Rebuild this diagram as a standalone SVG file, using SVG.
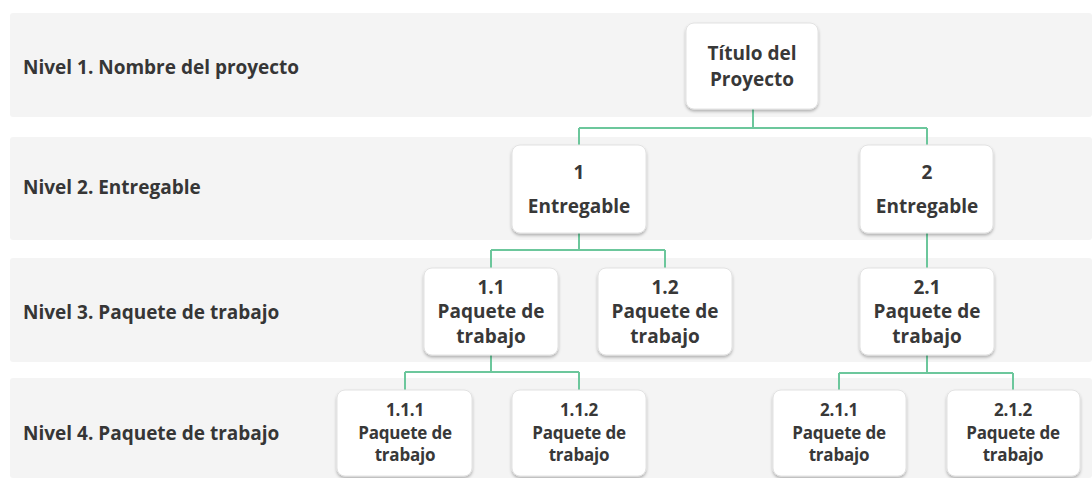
<svg xmlns="http://www.w3.org/2000/svg" width="1092" height="478" viewBox="0 0 1092 478">
  <defs>
    <filter id="sh" x="-10%" y="-10%" width="120%" height="125%">
      <feDropShadow dx="0" dy="2" stdDeviation="1.5" flood-color="#000" flood-opacity="0.28"/>
    </filter>
    <style>
      .band { fill: #f4f4f4; }
      .lvl { font-family: "Open Sans", "Liberation Sans", sans-serif; font-weight: 700; font-size: 19px; fill: #363636; }
      .box { fill: #ffffff; stroke: #e2e2e2; stroke-width: 1; filter: url(#sh); }
      .t { font-family: "Open Sans", "Liberation Sans", sans-serif; font-weight: 700; font-size: 19px; fill: #383838; text-anchor: middle; }
      .s { font-family: "Open Sans", "Liberation Sans", sans-serif; font-weight: 700; font-size: 17px; fill: #383838; text-anchor: middle; letter-spacing: -0.2px; }
      .c { fill: none; stroke: #6cc79c; stroke-width: 2; }
    </style>
  </defs>
  <rect width="1092" height="478" fill="#ffffff"/>

  <g id="bands">
    <rect class="band" x="10" y="13" width="1082" height="104" rx="3"/>
    <rect class="band" x="10" y="137" width="1082" height="103" rx="3"/>
    <rect class="band" x="10" y="258" width="1082" height="104" rx="3"/>
    <rect class="band" x="10" y="378" width="1082" height="100" rx="3"/>
  </g>

  <g id="levels">
    <text class="lvl" x="23" y="74">Nivel 1. Nombre del proyecto</text>
    <text class="lvl" x="23" y="194">Nivel 2. Entregable</text>
    <text class="lvl" x="23" y="319">Nivel 3. Paquete de trabajo</text>
    <text class="lvl" x="23" y="440">Nivel 4. Paquete de trabajo</text>
  </g>

  <g id="connectors">
    <path class="c" d="M753 109 V128 M579 128 H927 M579 128 V145 M927 128 V145"/>
    <path class="c" d="M579 233 V250 M491 250 H665 M491 250 V268 M665 250 V268"/>
    <path class="c" d="M927 233 V268"/>
    <path class="c" d="M491 355 V372 M405 372 H579 M405 372 V390 M579 372 V390"/>
    <path class="c" d="M927 355 V373 M839 373 H1013 M839 373 V390 M1013 373 V390"/>
  </g>

  <g id="n0">
    <rect class="box" x="686" y="23" width="132" height="86" rx="8"/>
    <text class="t" x="752" y="60">Título del</text>
    <text class="t" x="752" y="86">Proyecto</text>
  </g>

  <g id="n1">
    <rect class="box" x="512" y="145" width="134" height="88" rx="8"/>
    <text class="t" x="579" y="179">1</text>
    <text class="t" x="579" y="213">Entregable</text>
  </g>
  <g id="n2">
    <rect class="box" x="860" y="145" width="133" height="88" rx="8"/>
    <text class="t" x="927" y="179">2</text>
    <text class="t" x="927" y="213">Entregable</text>
  </g>

  <g id="n1_1">
    <rect class="box" x="424" y="268" width="134" height="87" rx="8"/>
    <text class="t" x="491" y="294">1.1</text>
    <text class="t" x="491" y="318">Paquete de</text>
    <text class="t" x="491" y="343">trabajo</text>
  </g>
  <g id="n1_2">
    <rect class="box" x="598" y="268" width="134" height="87" rx="8"/>
    <text class="t" x="665" y="294">1.2</text>
    <text class="t" x="665" y="318">Paquete de</text>
    <text class="t" x="665" y="343">trabajo</text>
  </g>
  <g id="n2_1">
    <rect class="box" x="860" y="268" width="134" height="87" rx="8"/>
    <text class="t" x="927" y="294">2.1</text>
    <text class="t" x="927" y="318">Paquete de</text>
    <text class="t" x="927" y="343">trabajo</text>
  </g>

  <g id="n1_1_1">
    <rect class="box" x="337" y="390" width="135" height="86" rx="8"/>
    <text class="s" x="405" y="416">1.1.1</text>
    <text class="s" x="405" y="439">Paquete de</text>
    <text class="s" x="405" y="461">trabajo</text>
  </g>
  <g id="n1_1_2">
    <rect class="box" x="512" y="390" width="134" height="86" rx="8"/>
    <text class="s" x="579" y="416">1.1.2</text>
    <text class="s" x="579" y="439">Paquete de</text>
    <text class="s" x="579" y="461">trabajo</text>
  </g>
  <g id="n2_1_1">
    <rect class="box" x="773" y="390" width="133" height="86" rx="8"/>
    <text class="s" x="839" y="416">2.1.1</text>
    <text class="s" x="839" y="439">Paquete de</text>
    <text class="s" x="839" y="461">trabajo</text>
  </g>
  <g id="n2_1_2">
    <rect class="box" x="947" y="390" width="133" height="86" rx="8"/>
    <text class="s" x="1013" y="416">2.1.2</text>
    <text class="s" x="1013" y="439">Paquete de</text>
    <text class="s" x="1013" y="461">trabajo</text>
  </g>
</svg>
